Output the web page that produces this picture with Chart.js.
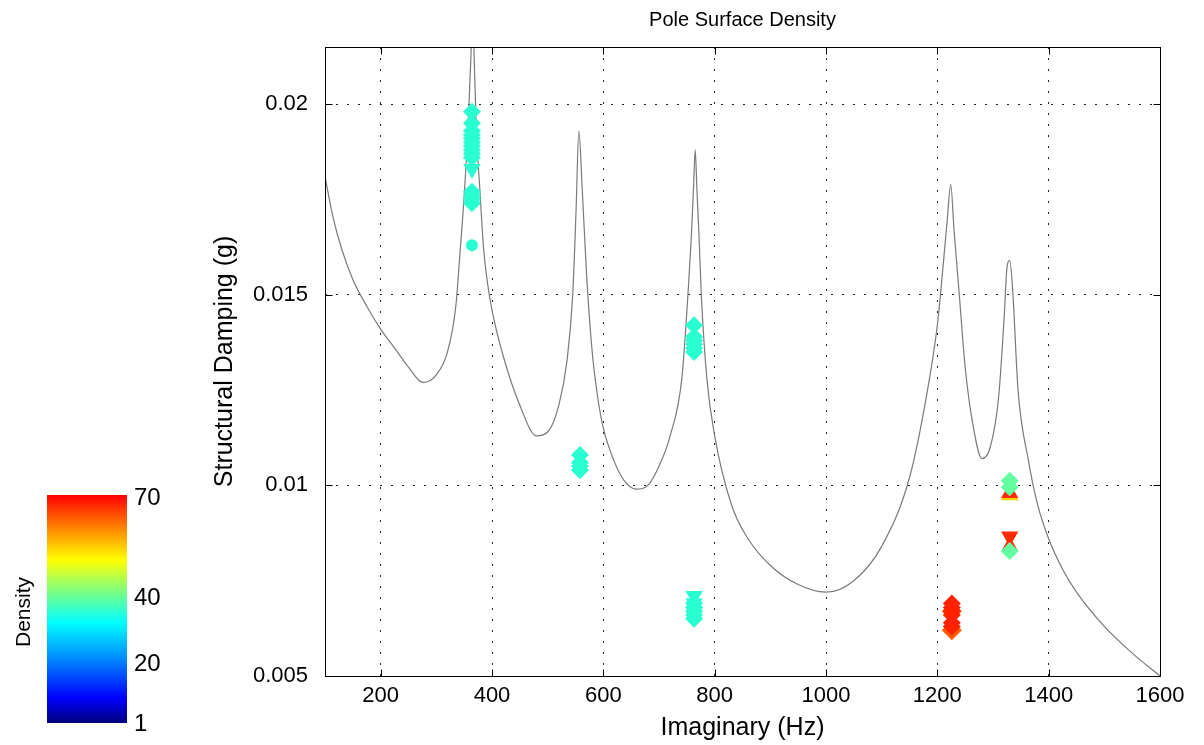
<!DOCTYPE html>
<html>
<head>
<meta charset="utf-8">
<script src="https://cdn.jsdelivr.net/npm/chart.js@4.4.1/dist/chart.umd.min.js"></script>
<style>
  html, body { margin: 0; padding: 0; background: #fff; }
  #wrap { position: relative; width: 1204px; height: 745px; font-family: 'Liberation Sans', Arial, sans-serif; }
  #c { position: absolute; left: 0; top: 0; }
  #cbar { position: absolute; left: 47px; top: 495px; width: 80px; height: 228px;
    background: linear-gradient(to top, #00007f 0%, #0000ff 11%, #0080ff 27%, #00ffff 44%, #80ff80 58%, #ffff00 71.5%, #ff8000 86%, #ff0000 100%); }
  .cl { position: absolute; left: 134px; font-size: 24px; line-height: 24px; color: #000; transform: translateY(-50%); }
  #dens { position: absolute; left: 23px; top: 612px; font-size: 21px; color: #000; transform: translate(-50%, -50%) rotate(-90deg); white-space: nowrap; }
</style>
</head>
<body>
<div id="wrap">
  <canvas id="c" width="1204" height="745"></canvas>
  <div id="cbar"></div>
  <div id="cbLabels"></div>
  <div id="dens">Density</div>
</div>
<script>
// ---------- data ----------
const xTicks = [200, 400, 600, 800, 1000, 1200, 1400, 1600];
const yTicks = [0.005, 0.01, 0.015, 0.02];
const yTickLabels = ['0.005', '0.01', '0.015', '0.02'];
const colorbarTicks = ['70', '40', '20', '1'];

// gray model curve (frequency Hz, structural damping g)
const curveFreq = [100, 115, 130, 150, 175, 200, 225, 250, 276, 300, 320, 335, 342, 350, 357, 362, 365, 368, 372, 378, 385, 392, 400, 420, 450, 480, 500, 520, 535, 545, 551, 556, 562, 570, 580, 590, 600, 615, 630, 645, 660, 680, 700, 720, 741, 752, 758, 762, 765, 768, 772, 776, 786, 800, 830, 860, 900, 950, 1000, 1050, 1100, 1150, 1180, 1200, 1210, 1218, 1224, 1230, 1240, 1250, 1265, 1280, 1295, 1310, 1320, 1325, 1330, 1335, 1345, 1363, 1380, 1400, 1425, 1450, 1500, 1550, 1600];
const curveDamp = [0.0181, 0.0170, 0.0162, 0.0154, 0.0147, 0.0141, 0.0136, 0.0131, 0.0127, 0.0129, 0.0135, 0.0147, 0.0160, 0.0176, 0.0194, 0.0212, 0.0225, 0.0212, 0.0193, 0.0178, 0.0162, 0.0153, 0.0146, 0.0134, 0.0121, 0.0113, 0.0114, 0.0121, 0.0133, 0.0150, 0.0172, 0.0193, 0.0178, 0.0155, 0.0135, 0.0123, 0.0115, 0.0108, 0.0103, 0.0100, 0.0099, 0.0100, 0.0105, 0.0113, 0.0128, 0.0150, 0.0165, 0.0178, 0.0188, 0.0178, 0.0165, 0.0150, 0.0128, 0.0113, 0.0095, 0.0086, 0.0079, 0.0074, 0.0072, 0.0075, 0.0084, 0.0102, 0.0123, 0.0142, 0.0157, 0.0170, 0.0179, 0.0167, 0.0149, 0.0131, 0.0115, 0.0107, 0.0110, 0.0123, 0.0144, 0.0157, 0.0159, 0.0152, 0.0125, 0.0107, 0.0095, 0.0086, 0.0078, 0.0072, 0.0063, 0.0056, 0.0050];

// identified poles: cyan group (density ~33)
const cyanDiamondFreq = [364, 364, 364, 364, 364, 364, 364, 364, 364, 364, 364, 364, 364, 364, 558, 558, 558, 558, 763, 763, 763, 763, 763, 763, 763, 763, 763, 763, 763];
const cyanDiamondDamp = [0.0198, 0.0195, 0.0193, 0.0192, 0.0191, 0.0190, 0.0189, 0.0188, 0.0187, 0.0186, 0.0177, 0.0176, 0.0175, 0.0174, 0.0108, 0.0106, 0.0105, 0.0104, 0.0142, 0.0139, 0.0138, 0.0137, 0.0136, 0.0135, 0.0069, 0.0068, 0.0067, 0.0066, 0.0065];
const cyanTriFreq = [364, 763, 763];
const cyanTriDamp = [0.0183, 0.0071, 0.0069];
const cyanCircleFreq = [364];
const cyanCircleDamp = [0.0163];

// green group at 1330 Hz (density ~45)
const greenDiamondFreq = [1330, 1330, 1330];
const greenDiamondDamp = [0.01012, 0.00995, 0.00828];

// red group (density ~68)
const redDiamondFreq = [1226, 1226, 1226, 1226, 1226, 1226];
const redDiamondDamp = [0.0069, 0.0068, 0.0067, 0.0066, 0.0064, 0.0063];
const orangeDiamondFreq = [1226, 1226];
const orangeDiamondDamp = [0.0067, 0.0062];
const redTriDownFreq = [1330];
const redTriDownDamp = [0.00866];
const redTriUpFreq = [1330, 1330];
const redTriUpDamp = [0.0098, 0.0084];
const yellowTriUpFreq = [1330];
const yellowTriUpDamp = [0.00975];

// ---------- helpers ----------
const pts = (xs, ys) => xs.map((x, i) => ({ x: x, y: ys[i] }));
const FONT = "'Liberation Sans', Arial, sans-serif";

function markerSet(xs, ys, color, style, radius, rotation) {
  return {
    type: 'scatter',
    data: pts(xs, ys),
    pointStyle: style,
    rotation: rotation || 0,
    pointRadius: radius,
    pointBackgroundColor: color,
    pointBorderColor: color,
    pointBorderWidth: 0,
    showLine: false
  };
}

const framePlugin = {
  id: 'frame',
  afterDraw(chart) {
    const { ctx, chartArea: a, scales } = chart;
    ctx.save();
    ctx.strokeStyle = '#000';
    ctx.lineWidth = 1;
    const L = Math.round(a.left) + 0.5, R = Math.round(a.right) + 0.5;
    const T = Math.round(a.top) + 0.5, B = Math.round(a.bottom) + 0.5;
    ctx.strokeRect(L, T, R - L, B - T);
    ctx.beginPath();
    xTicks.forEach(v => {
      const px = Math.round(scales.x.getPixelForValue(v)) + 0.5;
      ctx.moveTo(px, B); ctx.lineTo(px, B - 7);
      ctx.moveTo(px, T); ctx.lineTo(px, T + 7);
    });
    yTicks.forEach(v => {
      const py = Math.round(scales.y.getPixelForValue(v)) + 0.5;
      ctx.moveTo(L, py); ctx.lineTo(L + 7, py);
      ctx.moveTo(R, py); ctx.lineTo(R - 7, py);
    });
    ctx.stroke();
    ctx.restore();
  }
};

Chart.defaults.color = '#000';
Chart.defaults.font.family = FONT;

new Chart(document.getElementById('c'), {
  type: 'scatter',
  data: {
    datasets: [
      markerSet(greenDiamondFreq, greenDiamondDamp, '#64ffa0', 'rectRot', 9),
      markerSet(cyanDiamondFreq, cyanDiamondDamp, '#2affd2', 'rectRot', 9),
      markerSet(cyanTriFreq, cyanTriDamp, '#2affd2', 'triangle', 10, 180),
      markerSet(cyanCircleFreq, cyanCircleDamp, '#2affd2', 'circle', 6),
      markerSet(redDiamondFreq, redDiamondDamp, '#ff2200', 'rectRot', 9),
      markerSet(orangeDiamondFreq, orangeDiamondDamp, '#ff5a00', 'rectRot', 10),
      markerSet(redTriDownFreq, redTriDownDamp, '#ff2a00', 'triangle', 10, 180),
      markerSet(redTriUpFreq, redTriUpDamp, '#ff2a00', 'triangle', 10),
      markerSet(yellowTriUpFreq, yellowTriUpDamp, '#ffd400', 'triangle', 10.5),
      {
        type: 'line',
        data: pts(curveFreq, curveDamp),
        borderColor: '#7a7a7a',
        borderWidth: 1.2,
        pointRadius: 0,
        cubicInterpolationMode: 'monotone',
        fill: false
      }
    ]
  },
  options: {
    responsive: false,
    animation: false,
    events: [],
    layout: { padding: { left: 0, right: 44, top: 0, bottom: 0 } },
    plugins: {
      legend: { display: false },
      tooltip: { enabled: false },
      title: {
        display: true,
        fullSize: false,
        text: 'Pole Surface Density',
        color: '#000',
        font: { family: FONT, size: 20, weight: 'normal' },
        padding: { top: 8, bottom: 15 }
      }
    },
    scales: {
      x: {
        type: 'linear',
        min: 100,
        max: 1600,
        afterBuildTicks: s => { s.ticks = xTicks.map(v => ({ value: v })); },
        afterFit: s => { s.height = 69; },
        ticks: { font: { family: FONT, size: 22 }, color: '#000', padding: 7, maxRotation: 0, autoSkip: false,
          callback: v => String(v) },
        grid: { color: '#222', lineWidth: 1, drawTicks: false },
        border: { display: false, dash: [2, 9] },
        title: { display: true, text: 'Imaginary (Hz)', color: '#000', font: { family: FONT, size: 25 }, padding: { top: 0, bottom: 2 } }
      },
      y: {
        type: 'linear',
        min: 0.005,
        max: 0.0215,
        afterBuildTicks: s => { s.ticks = yTicks.map(v => ({ value: v })); },
        afterFit: s => { s.width = 325; },
        ticks: {
          font: { family: FONT, size: 22 }, color: '#000', padding: 17, autoSkip: false,
          callback: (v) => { const i = yTicks.findIndex(t => Math.abs(t - v) < 1e-9); return i >= 0 ? yTickLabels[i] : ''; }
        },
        grid: { color: '#222', lineWidth: 1, drawTicks: false },
        border: { display: false, dash: [2, 9] },
        title: { display: true, text: 'Structural Damping (g)', color: '#000', font: { family: FONT, size: 25 }, padding: { top: 210, bottom: 0 } }
      }
    }
  },
  plugins: [framePlugin]
});

// colorbar labels
const cbY = [497, 597, 663, 723];
const holder = document.getElementById('cbLabels');
colorbarTicks.forEach((t, i) => {
  const d = document.createElement('div');
  d.className = 'cl';
  d.style.top = cbY[i] + 'px';
  d.textContent = t;
  holder.appendChild(d);
});
</script>
</body>
</html>
